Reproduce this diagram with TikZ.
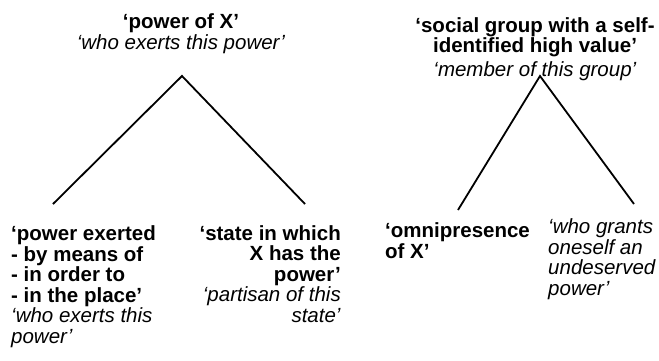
\documentclass[tikz,border=0pt]{standalone}
\usepackage{fontspec}
\setmainfont{Liberation Sans}

\begin{document}
\begin{tikzpicture}[x=1pt,y=-1pt,
    every node/.style={inner sep=0pt,font=\fontsize{20.5}{20.5}\selectfont},
    branch/.style={line width=1.8pt}]
\useasboundingbox (0,0) rectangle (659,360);

%========================
% Tree 1 (power of X)
%========================

% Root
\node[anchor=base,align=center] (pow) at (181,49) {\textbf{‘power of X’}\\\textit{‘who exerts this power’}};
\coordinate (apexA) at (182,76);

% Leaves
\coordinate (leafA1) at (53,204);
\coordinate (leafA2) at (305,204);
\node[anchor=base west,align=left] (exert) at (11,343) {\textbf{‘power exerted}\\\textbf{- by means of}\\\textbf{- in order to}\\\textbf{- in the place’}\\\textit{‘who exerts this}\\\textit{power’}};
\node[anchor=base east,align=right] (state) at (341,322) {\textbf{‘state in which}\\\textbf{X has the}\\\textbf{power’}\\\textit{‘partisan of this}\\\textit{state’}};

% Edges
\draw[branch] (leafA1)--(apexA)--(leafA2);

%========================
% Tree 2 (social group)
%========================

% Root
\node[anchor=base,align=center] (group) at (535,76) {\textbf{‘social group with a self-}\\\textbf{identified high value’}\\[3pt]\textit{‘member of this group’}};
\coordinate (apexB) at (540,76);

% Leaves
\coordinate (leafB1) at (458,210);
\coordinate (leafB2) at (634,204);
\node[anchor=base west,align=left] (omni) at (385,258) {\textbf{‘omnipresence}\\\textbf{of X’}};
\node[anchor=base west,align=left] (grant) at (548,295) {\textit{‘who grants}\\\textit{oneself an}\\\textit{undeserved}\\\textit{power’}};

% Edges
\draw[branch] (leafB1)--(apexB)--(leafB2);

\end{tikzpicture}
\end{document}
